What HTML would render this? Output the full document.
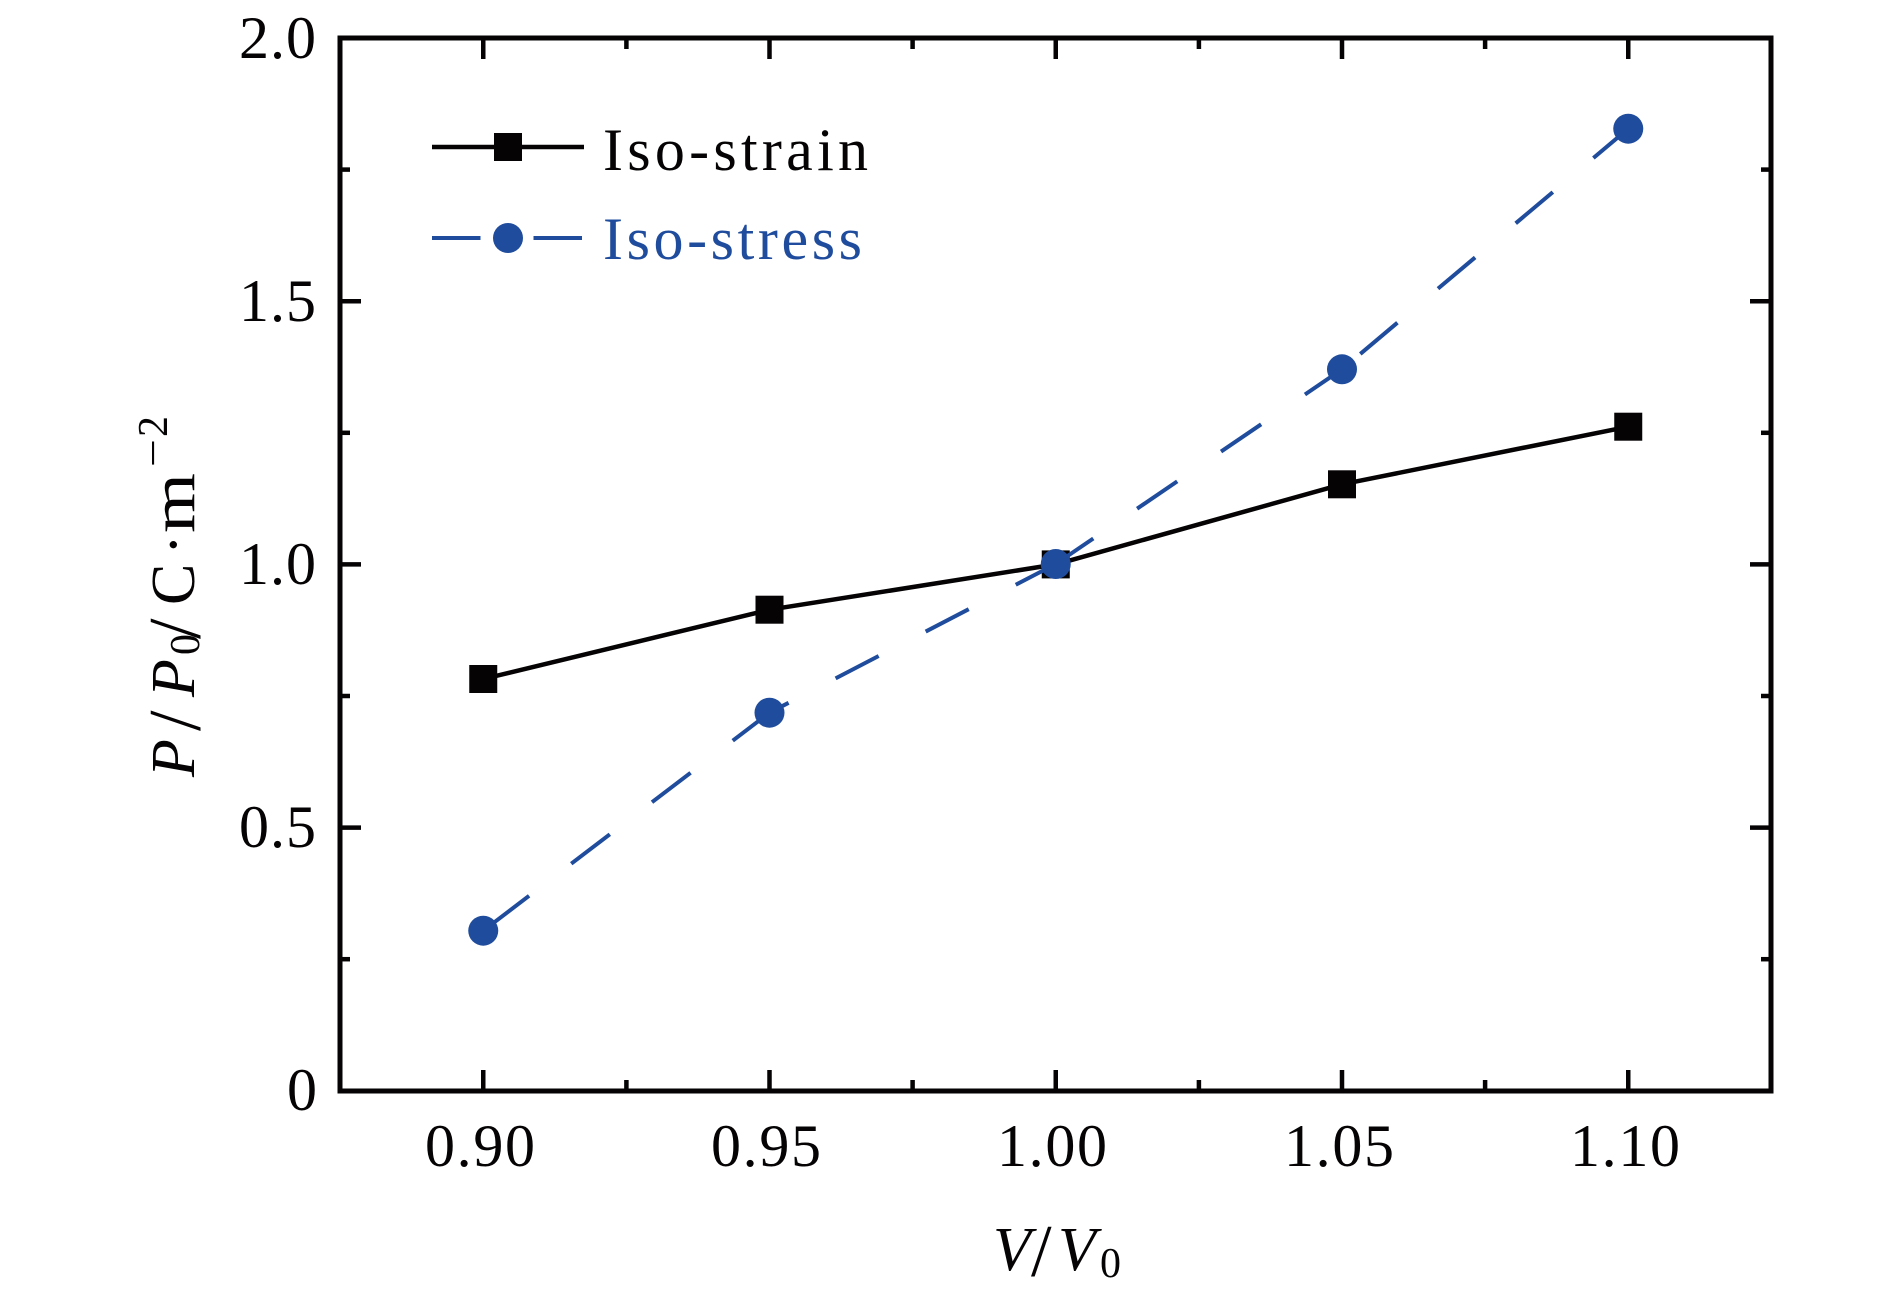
<!DOCTYPE html>
<html>
<head>
<meta charset="utf-8">
<style>
  html, body { margin: 0; padding: 0; background: #ffffff; }
  svg { display: block; }
  text { font-family: "Liberation Serif", "DejaVu Serif", serif; }
</style>
</head>
<body>
<svg width="1890" height="1300" viewBox="0 0 1890 1300" xmlns="http://www.w3.org/2000/svg">
  <rect x="0" y="0" width="1890" height="1300" fill="#ffffff"/>

  <!-- Ticks (inward, all four sides) -->
  <g stroke="#050303" stroke-width="4.5" fill="none">
    <line x1="483.25" y1="1091" x2="483.25" y2="1070"/>
    <line x1="769.5" y1="1091" x2="769.5" y2="1070"/>
    <line x1="1055.75" y1="1091" x2="1055.75" y2="1070"/>
    <line x1="1342" y1="1091" x2="1342" y2="1070"/>
    <line x1="1628.25" y1="1091" x2="1628.25" y2="1070"/>
    <line x1="626.4" y1="1091" x2="626.4" y2="1080"/>
    <line x1="912.6" y1="1091" x2="912.6" y2="1080"/>
    <line x1="1198.9" y1="1091" x2="1198.9" y2="1080"/>
    <line x1="1485.1" y1="1091" x2="1485.1" y2="1080"/>
    <line x1="483.25" y1="38" x2="483.25" y2="59"/>
    <line x1="769.5" y1="38" x2="769.5" y2="59"/>
    <line x1="1055.75" y1="38" x2="1055.75" y2="59"/>
    <line x1="1342" y1="38" x2="1342" y2="59"/>
    <line x1="1628.25" y1="38" x2="1628.25" y2="59"/>
    <line x1="626.4" y1="38" x2="626.4" y2="49"/>
    <line x1="912.6" y1="38" x2="912.6" y2="49"/>
    <line x1="1198.9" y1="38" x2="1198.9" y2="49"/>
    <line x1="1485.1" y1="38" x2="1485.1" y2="49"/>
    <line x1="340" y1="827.6" x2="361" y2="827.6"/>
    <line x1="340" y1="564.4" x2="361" y2="564.4"/>
    <line x1="340" y1="301.2" x2="361" y2="301.2"/>
    <line x1="340" y1="959.2" x2="350" y2="959.2"/>
    <line x1="340" y1="696" x2="350" y2="696"/>
    <line x1="340" y1="432.8" x2="350" y2="432.8"/>
    <line x1="340" y1="169.6" x2="350" y2="169.6"/>
    <line x1="1771" y1="827.6" x2="1750" y2="827.6"/>
    <line x1="1771" y1="564.4" x2="1750" y2="564.4"/>
    <line x1="1771" y1="301.2" x2="1750" y2="301.2"/>
    <line x1="1771" y1="959.2" x2="1761" y2="959.2"/>
    <line x1="1771" y1="696" x2="1761" y2="696"/>
    <line x1="1771" y1="432.8" x2="1761" y2="432.8"/>
    <line x1="1771" y1="169.6" x2="1761" y2="169.6"/>
  </g>

  <!-- Frame -->
  <rect x="340" y="38" width="1431" height="1053" fill="none" stroke="#050303" stroke-width="5"/>

  <!-- Y tick labels -->
  <g font-size="60" fill="#050303" text-anchor="end">
    <text x="317" y="1110">0</text>
    <text x="316" y="847" textLength="77" lengthAdjust="spacing">0.5</text>
    <text x="316" y="584" textLength="77" lengthAdjust="spacing">1.0</text>
    <text x="316" y="321" textLength="77" lengthAdjust="spacing">1.5</text>
    <text x="316" y="58" textLength="77" lengthAdjust="spacing">2.0</text>
  </g>

  <!-- X tick labels -->
  <g font-size="60" fill="#050303" text-anchor="middle">
    <text x="480" y="1166" textLength="110" lengthAdjust="spacing">0.90</text>
    <text x="766" y="1166" textLength="110" lengthAdjust="spacing">0.95</text>
    <text x="1052" y="1166" textLength="110" lengthAdjust="spacing">1.00</text>
    <text x="1339" y="1166" textLength="110" lengthAdjust="spacing">1.05</text>
    <text x="1625" y="1166" textLength="110" lengthAdjust="spacing">1.10</text>
  </g>

  <!-- X axis label: V/V0 -->
  <g fill="#050303">
    <text x="993" y="1270" font-size="62" font-style="italic">V</text>
    <text x="1031" y="1276" font-size="74">/</text>
    <text x="1058" y="1270" font-size="62" font-style="italic">V</text>
    <text x="1100" y="1277" font-size="42">0</text>
  </g>

  <!-- Y axis label: P/P0/C·m^-2 (rotated) -->
  <g transform="translate(194,777) rotate(-90)" fill="#050303">
    <text x="0" y="0" font-size="62" font-style="italic">P</text>
    <text x="46" y="6" font-size="74">/</text>
    <text x="80" y="0" font-size="62" font-style="italic">P</text>
    <text x="122" y="5" font-size="42">0</text>
    <text x="138" y="6" font-size="74">/</text>
    <text x="172" y="0" font-size="62">C</text>
    <text x="222" y="0" font-size="62">·</text>
    <text x="244" y="0" font-size="62" textLength="60" lengthAdjust="spacingAndGlyphs">m</text>
    <text x="310" y="-27" font-size="42" textLength="28" lengthAdjust="spacingAndGlyphs">−</text>
    <text x="340" y="-27" font-size="42">2</text>
  </g>

  <!-- Iso-strain series -->
  <polyline points="483.25,679 769.5,609.7 1055.75,564.4 1342,484.3 1628.25,426.7"
            fill="none" stroke="#050303" stroke-width="4.5" stroke-linejoin="round"/>
  <g fill="#050303">
    <rect x="469.25" y="665" width="28" height="28"/>
    <rect x="755.5" y="595.7" width="28" height="28"/>
    <rect x="1041.75" y="550.4" width="28" height="28"/>
    <rect x="1328" y="470.3" width="28" height="28"/>
    <rect x="1614.25" y="412.7" width="28" height="28"/>
  </g>

  <!-- Iso-stress series (dashed, per-segment) -->
  <g fill="none" stroke="#1f4c9c" stroke-width="4" stroke-linecap="butt" stroke-dasharray="48.5 53">
    <line x1="483.25" y1="930.7" x2="769.5" y2="712.7" stroke-dashoffset="92.4"/>
    <line x1="769.5" y1="712.7" x2="1055.75" y2="564" stroke-dashoffset="27"/>
    <line x1="1055.75" y1="564" x2="1342" y2="369.3" stroke-dashoffset="3.1"/>
    <line x1="1342" y1="369.3" x2="1628.25" y2="128.7" stroke-dashoffset="77.6"/>
  </g>
  <g fill="#1f4c9c">
    <circle cx="483.25" cy="930.7" r="15"/>
    <circle cx="769.5" cy="712.7" r="15"/>
    <circle cx="1055.75" cy="564" r="15"/>
    <circle cx="1342" cy="369.3" r="15"/>
    <circle cx="1628.25" cy="128.7" r="15"/>
  </g>

  <!-- Legend -->
  <line x1="432" y1="147" x2="584" y2="147" stroke="#050303" stroke-width="4.5"/>
  <rect x="494" y="133" width="28" height="28" fill="#050303"/>
  <text x="603" y="170" font-size="60" fill="#050303" textLength="265" lengthAdjust="spacing">Iso-strain</text>

  <line x1="432" y1="238" x2="584" y2="238" stroke="#1f4c9c" stroke-width="4" stroke-dasharray="48.5 53"/>
  <circle cx="508" cy="238" r="15" fill="#1f4c9c"/>
  <text x="603" y="259" font-size="60" fill="#1f4c9c" textLength="259" lengthAdjust="spacing">Iso-stress</text>
</svg>
</body>
</html>
